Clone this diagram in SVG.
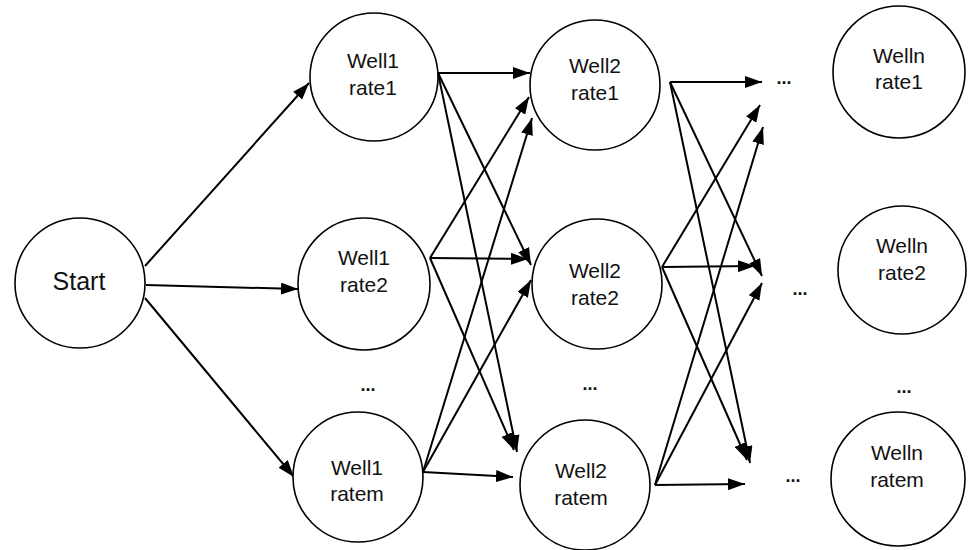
<svg xmlns="http://www.w3.org/2000/svg" width="968" height="550" viewBox="0 0 968 550">
<defs>
<marker id="ah" markerUnits="userSpaceOnUse" markerWidth="17" markerHeight="12" refX="17" refY="6" orient="auto">
<path d="M0,0 L17,6 L0,12 z" fill="#000"/>
</marker>
<style>
circle{fill:#fff;stroke:#000;stroke-width:1.6}
text{font-family:"Liberation Sans",Arial,sans-serif;font-size:21px;fill:#111;text-anchor:middle}
.big{font-size:25px}
.dots{font-weight:bold;font-size:18px}
#connectors line{stroke:#000;stroke-width:2;marker-end:url(#ah)}
</style>
</defs>
<rect width="968" height="550" fill="#fff"/>
<g id="connectors">
<line x1="145" y1="266" x2="309" y2="83"/>
<line x1="146" y1="285" x2="298" y2="289"/>
<line x1="145" y1="298" x2="294" y2="477"/>
<line x1="438" y1="73" x2="530" y2="73"/>
<line x1="438" y1="73" x2="531" y2="265"/>
<line x1="438" y1="73" x2="517" y2="452"/>
<line x1="430" y1="258" x2="529" y2="97"/>
<line x1="430" y1="258" x2="528" y2="259"/>
<line x1="430" y1="258" x2="514" y2="450"/>
<line x1="423" y1="472" x2="532" y2="118"/>
<line x1="423" y1="472" x2="531" y2="280"/>
<line x1="423" y1="472" x2="513" y2="477"/>
<line x1="670" y1="82" x2="762" y2="82"/>
<line x1="670" y1="82" x2="762" y2="276"/>
<line x1="670" y1="82" x2="750" y2="463"/>
<line x1="662" y1="267" x2="760" y2="105"/>
<line x1="662" y1="267" x2="755" y2="266"/>
<line x1="662" y1="267" x2="747" y2="460"/>
<line x1="655" y1="485" x2="763" y2="127"/>
<line x1="655" y1="485" x2="762" y2="283"/>
<line x1="655" y1="485" x2="745" y2="484"/>
</g>
<g id="start"><circle cx="80" cy="283" r="65"/><text class="big" x="79" y="290">Start</text></g>
<g id="w1r1"><circle cx="374" cy="77" r="64"/><text x="373" y="68">Well1</text><text x="373" y="95">rate1</text></g>
<g id="w1r2"><circle cx="364" cy="284" r="66"/><text x="364" y="265">Well1</text><text x="364" y="292">rate2</text></g>
<g id="w1rm"><circle cx="358" cy="477" r="65"/><text x="357" y="475">Well1</text><text x="357" y="501">ratem</text></g>
<g id="w2r1"><circle cx="595" cy="85" r="65"/><text x="595" y="73">Well2</text><text x="595" y="100">rate1</text></g>
<g id="w2r2"><circle cx="597" cy="284" r="65"/><text x="595" y="278">Well2</text><text x="595" y="305">rate2</text></g>
<g id="w2rm"><circle cx="585" cy="485" r="65"/><text x="581" y="478">Well2</text><text x="581" y="505">ratem</text></g>
<g id="wnr1"><circle cx="899" cy="72" r="66"/><text x="899" y="63">Welln</text><text x="899" y="89">rate1</text></g>
<g id="wnr2"><circle cx="902" cy="270" r="64"/><text x="902" y="253">Welln</text><text x="902" y="280">rate2</text></g>
<g id="wnrm"><circle cx="898" cy="479" r="67"/><text x="897" y="460">Welln</text><text x="897" y="487">ratem</text></g>
<g id="ellipses">
<text class="dots" x="368" y="391">...</text>
<text class="dots" x="590" y="390">...</text>
<text class="dots" x="904" y="393">...</text>
<text class="dots" x="784" y="84">...</text>
<text class="dots" x="800" y="295">...</text>
<text class="dots" x="793" y="482">...</text>
</g>
</svg>
